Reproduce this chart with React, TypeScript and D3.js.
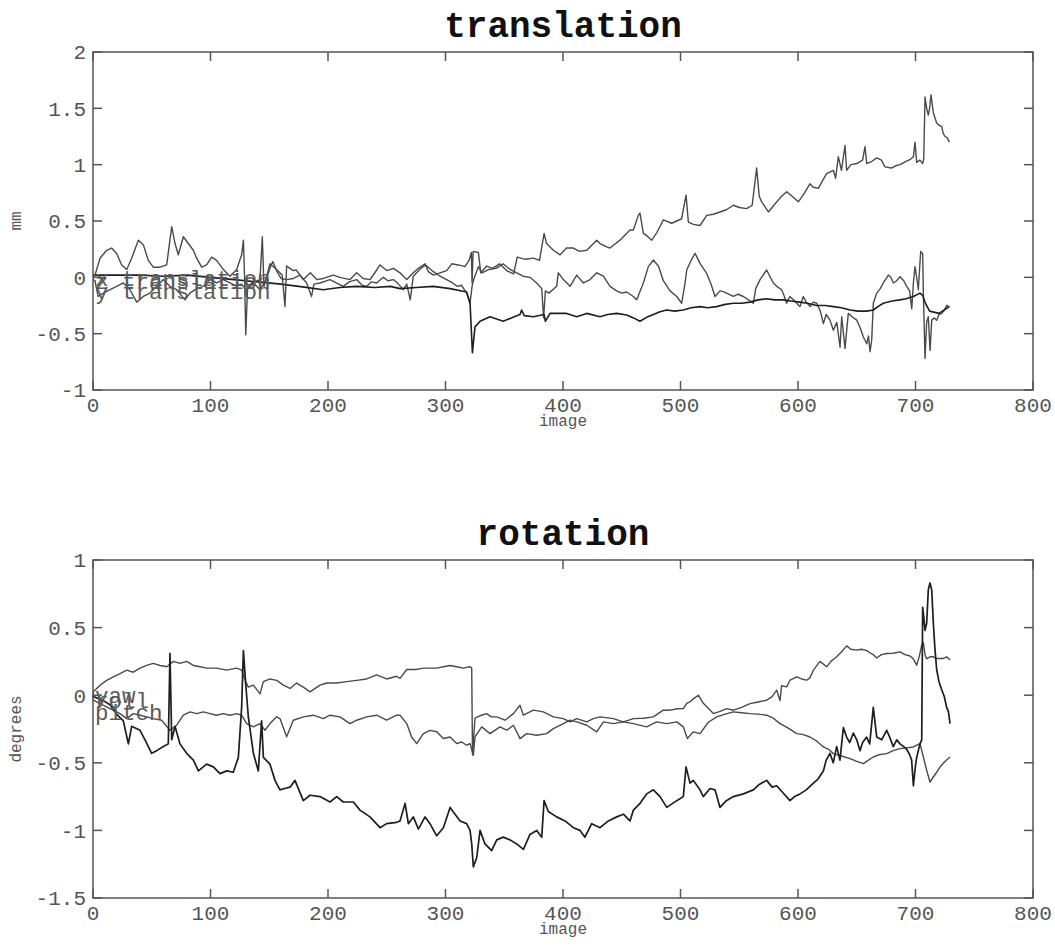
import * as d3 from 'd3';

// image index / value pairs
const xTranslation: [number, number][] = [[0,0.0],[1.7,0.02],[6,0.17],[11.6,0.24],[15.9,0.26],[20.2,0.21],[24.4,0.11],[28.7,0.07],[32.9,0.17],[38.6,0.33],[42.8,0.29],[47.1,0.15],[51.3,0.09],[57,0.09],[62.7,0.11],[67,0.45],[69.8,0.3],[72.6,0.2],[76.9,0.36],[81.1,0.3],[85.4,0.24],[88.2,0.17],[92.5,0.09],[96.7,0.11],[101,0.18],[105.2,0.15],[110.9,0.07],[116.6,0.01],[122.3,0.07],[126.5,0.2],[128,0.33],[129,0.0],[130,-0.51],[131.5,-0.1],[135,-0.05],[142.1,-0.02],[144.1,0.36],[145.5,-0.08],[150.6,0.12],[156.2,0.07],[161,0.02],[163.4,-0.26],[164.8,0.1],[170.5,0.06],[173,0.065],[179,-0.02],[185,0.04],[190.4,-0.02],[196,-0.01],[204.5,0.02],[210.2,0.0],[218.7,-0.02],[224.4,0.04],[230,-0.01],[235.8,-0.02],[241.4,0.065],[244.3,0.11],[250,0.06],[255.6,0.08],[261.3,0.04],[267,-0.02],[272.6,0.04],[276.9,0.08],[282.6,0.12],[285.4,0.05],[289.7,0.02],[295.3,0.04],[301,0.06],[305.3,0.12],[311,0.11],[316.6,0.095],[320,0.15],[322,0.22],[322.6,-0.05],[323.5,0.23],[328,0.22],[330,0.04],[335,0.1],[340,0.08],[346,0.12],[352,0.06],[358,0.03],[361,0.18],[368,0.16],[375,0.17],[380,0.15],[383.9,0.39],[386,0.3],[391.8,0.24],[397.5,0.2],[403,0.26],[408.8,0.26],[414,0.23],[420.2,0.24],[428.7,0.33],[431.5,0.3],[437.2,0.27],[440,0.26],[448.5,0.33],[457,0.42],[459.9,0.42],[464.1,0.55],[465.5,0.57],[468.4,0.39],[471.2,0.37],[475.5,0.33],[480,0.4],[485.4,0.51],[492.5,0.48],[501,0.52],[504.7,0.73],[506.7,0.49],[511,0.47],[516.6,0.46],[522.3,0.55],[528,0.56],[533.6,0.58],[539,0.6],[545,0.64],[550,0.62],[556.3,0.61],[561,0.64],[564.8,0.97],[567,0.72],[569.1,0.67],[574.8,0.58],[578,0.62],[581.9,0.67],[586,0.72],[590.4,0.76],[595,0.72],[600.3,0.67],[605,0.74],[610.2,0.83],[613,0.8],[617.3,0.79],[621,0.86],[624.4,0.92],[630.1,0.95],[632,0.88],[634.3,1.07],[637,0.95],[640,1.17],[641.4,0.95],[645,1.0],[650,1.01],[655,1.04],[657,1.16],[658.5,1.01],[663,1.03],[667,1.06],[671,1.04],[674,0.98],[679.7,0.97],[683,0.99],[686.8,1.0],[692,1.03],[696,1.05],[698.2,1.07],[699.6,1.2],[701,1.02],[703.8,1.04],[706.1,1.01],[707,1.05],[708.1,1.6],[709.5,1.5],[710.9,1.44],[712,1.5],[713.2,1.62],[715.2,1.46],[718,1.37],[720,1.35],[722.3,1.34],[723.5,1.28],[725.1,1.25],[727,1.24],[728.8,1.2]];

const yTranslation: [number, number][] = [[0,-0.02],[1.7,-0.03],[4.3,-0.17],[8.8,-0.14],[14.5,-0.11],[20.2,-0.08],[25.8,-0.05],[31.5,-0.11],[37.2,-0.22],[42.8,-0.17],[48.5,-0.14],[54.2,-0.08],[59.9,-0.02],[65.5,-0.08],[71.2,-0.11],[78.3,-0.2],[82.5,-0.14],[88.2,-0.1],[93.9,-0.08],[99.6,-0.02],[105.2,-0.05],[110.9,-0.02],[116.6,-0.05],[122.3,-0.08],[126,-0.06],[130.8,-0.11],[136.5,-0.05],[142.1,-0.11],[147,-0.03],[150.6,0.08],[153,0.14],[156.2,0.06],[160,-0.01],[164.8,-0.02],[170.5,-0.01],[176.2,0.02],[181.8,-0.05],[186,-0.17],[188,-0.06],[193.2,-0.05],[201.7,-0.02],[207,-0.05],[213,-0.08],[218,-0.04],[224.4,-0.02],[229,-0.07],[233,-0.08],[237,-0.04],[241.4,-0.05],[247.1,0.0],[251,-0.03],[255.6,-0.02],[260,-0.06],[264.1,-0.11],[267,-0.06],[270,-0.2],[272.6,0.01],[278,0.07],[283,0.11],[289.7,0.05],[295.3,0.01],[301,-0.02],[306,-0.05],[310,-0.08],[313.5,-0.07],[318,-0.14],[320.9,-0.23],[322.6,-0.08],[324,-0.02],[328,0.095],[331,0.04],[337,0.07],[343,0.08],[349,0.12],[355,0.07],[360.6,0.04],[366,0.01],[371.9,0.0],[377.6,-0.05],[381.9,-0.1],[383.5,-0.36],[385,-0.12],[388,-0.14],[394.6,-0.08],[396,0.04],[400.3,-0.02],[406,-0.08],[411.7,0.02],[417.3,-0.05],[423,-0.02],[428.7,0.04],[434.4,0.01],[440,-0.08],[445.7,-0.12],[450,-0.14],[454.2,-0.13],[459.9,-0.17],[462.7,-0.2],[468.4,-0.05],[472.6,0.095],[476.9,0.154],[481.2,0.1],[485.4,-0.03],[491.1,-0.12],[496.8,-0.17],[501,-0.23],[503.9,-0.05],[505.3,0.065],[509,0.15],[512.4,0.213],[516.6,0.124],[522.3,0.035],[526,-0.06],[529.4,-0.17],[533.6,-0.12],[536.5,-0.127],[541,-0.15],[545,-0.17],[549,-0.15],[553.5,-0.17],[558,-0.2],[562,-0.23],[564,-0.1],[567.7,-0.02],[573.3,0.065],[576,0.01],[579,-0.05],[582,-0.08],[586.1,-0.11],[588,-0.16],[590.4,-0.23],[593,-0.17],[596,-0.2],[599,-0.23],[601.7,-0.26],[604.5,-0.17],[607,-0.22],[610.2,-0.26],[613,-0.22],[615.9,-0.23],[619,-0.3],[621.6,-0.41],[624,-0.33],[627.2,-0.38],[630.1,-0.47],[633,-0.4],[635.8,-0.62],[637.2,-0.35],[640,-0.63],[642.8,-0.32],[646,-0.35],[650,-0.38],[653,-0.45],[655.6,-0.53],[658.5,-0.59],[660,-0.52],[661.3,-0.66],[662.7,-0.56],[664.1,-0.23],[667,-0.14],[670,-0.1],[672.6,-0.05],[676.9,0.02],[679,0.0],[681.2,-0.05],[684,-0.03],[686.8,0.006],[690,-0.03],[692.5,-0.08],[695,-0.12],[696.8,-0.28],[698.2,-0.05],[699.6,0.095],[701,0.0],[702.4,-0.11],[704.4,0.23],[706.1,0.21],[706.7,-0.14],[708.1,-0.72],[709.5,-0.4],[710.9,-0.35],[712.4,-0.65],[713.8,-0.38],[716,-0.36],[718,-0.38],[720,-0.33],[722.3,-0.32],[724,-0.3],[726.5,-0.25],[728.8,-0.26]];

const zTranslation: [number, number][] = [[0,0.02],[20,0.02],[40,0.02],[60,0.01],[80,0.02],[100,0.0],[120,-0.02],[140,-0.04],[160,-0.06],[175,-0.08],[196,-0.11],[210,-0.09],[224,-0.08],[240,-0.09],[253,-0.08],[261.3,-0.1],[275,-0.09],[289.7,-0.08],[303.9,-0.1],[318,-0.13],[320.9,-0.23],[322.9,-0.67],[325.1,-0.44],[329.4,-0.39],[337.9,-0.35],[349.2,-0.39],[356,-0.36],[363.4,-0.33],[364.8,-0.29],[367,-0.34],[374.8,-0.35],[383.9,-0.33],[385,-0.39],[389,-0.32],[403.1,-0.32],[411.7,-0.35],[420.2,-0.32],[431.5,-0.35],[438,-0.33],[445.7,-0.32],[454.2,-0.335],[460,-0.36],[465.5,-0.39],[471.2,-0.355],[482.6,-0.305],[488.2,-0.29],[495,-0.3],[502.4,-0.29],[509,-0.27],[516.6,-0.26],[523,-0.27],[530.8,-0.26],[538,-0.24],[545,-0.23],[552,-0.23],[559.2,-0.22],[566,-0.2],[573.3,-0.19],[580,-0.2],[587.5,-0.2],[594,-0.21],[601.7,-0.22],[608,-0.23],[615.9,-0.25],[623,-0.25],[630.1,-0.26],[637,-0.27],[644.3,-0.29],[651,-0.3],[658.5,-0.3],[664.1,-0.29],[668,-0.26],[672.6,-0.23],[680,-0.21],[686.8,-0.2],[692,-0.19],[698.2,-0.17],[703.8,-0.14],[706.1,-0.16],[708,-0.22],[712,-0.3],[720,-0.32],[728.8,-0.26]];

const pitch: [number, number][] = [[0,0.0],[0.3,0.025],[6,0.074],[11.6,0.11],[17.3,0.136],[23,0.16],[28.7,0.185],[34.3,0.17],[40,0.2],[45.7,0.22],[51.3,0.235],[57,0.22],[62.7,0.21],[68.4,0.25],[74,0.235],[79.7,0.25],[85.4,0.22],[91.1,0.21],[96.7,0.2],[105.2,0.2],[113.8,0.185],[122.3,0.2],[126.5,0.185],[130,0.1],[132.2,0.06],[136.5,0.075],[142.1,0.01],[145,0.1],[150.6,0.12],[156.3,0.11],[162,0.075],[167.7,0.05],[173.3,0.09],[179,0.06],[184.7,0.025],[193.2,0.075],[198.9,0.09],[207.4,0.09],[215.9,0.1],[224.4,0.11],[232.9,0.12],[241.4,0.15],[249.9,0.12],[258.4,0.14],[261.3,0.124],[267,0.19],[275,0.19],[281,0.2],[286.8,0.2],[292.5,0.2],[298.2,0.21],[303.9,0.22],[309.5,0.21],[315,0.2],[320.9,0.21],[322.3,0.2],[323,-0.44],[325.1,-0.17],[330,-0.15],[335,-0.136],[339,-0.16],[343.6,-0.16],[350.7,-0.185],[357.8,-0.136],[363.4,-0.074],[366.3,-0.148],[374.8,-0.11],[383.3,-0.123],[391.8,-0.16],[400.3,-0.173],[406,-0.197],[411.7,-0.173],[420.2,-0.197],[425.8,-0.173],[431.5,-0.16],[442.9,-0.173],[451.4,-0.197],[459.9,-0.173],[468.4,-0.17],[476.9,-0.16],[485.4,-0.111],[492,-0.11],[497,-0.1],[502.4,-0.099],[505.3,-0.06],[508.1,-0.049],[512,-0.02],[515.2,0.0],[519.4,-0.06],[524,-0.1],[528,-0.136],[533.6,-0.12],[539.3,-0.099],[545,-0.111],[552,-0.09],[559.2,-0.062],[566,-0.05],[573.3,-0.037],[578,-0.01],[581.9,0.037],[584.7,-0.04],[586,0.07],[590.4,0.062],[593.2,0.111],[598.9,0.136],[603,0.12],[607.4,0.111],[610.2,0.13],[613.1,0.185],[618.7,0.25],[624.4,0.21],[628,0.25],[632.9,0.284],[637,0.32],[641.4,0.365],[645,0.34],[649.9,0.333],[654,0.34],[658.5,0.33],[662,0.31],[664.1,0.3],[667,0.275],[671,0.3],[675.5,0.308],[681,0.31],[686.8,0.32],[691,0.3],[695.3,0.29],[698,0.27],[701,0.222],[703,0.28],[705.3,0.37],[706.7,0.39],[708.1,0.3],[709.5,0.27],[712.4,0.284],[715.2,0.284],[718,0.271],[723.7,0.272],[726.5,0.284],[729.4,0.26]];

const roll: [number, number][] = [[0,0.0],[0.3,-0.037],[6,-0.062],[14.5,-0.099],[23,-0.136],[28.7,-0.173],[34.3,-0.136],[40,-0.148],[45.7,-0.16],[51.3,-0.173],[58.4,-0.185],[65.5,-0.259],[71.2,-0.222],[76.9,-0.148],[82.6,-0.123],[88.2,-0.136],[93.9,-0.123],[99.6,-0.136],[105.2,-0.148],[110.9,-0.136],[116.6,-0.148],[122.3,-0.136],[126.5,-0.148],[130.8,-0.21],[136.5,-0.234],[142.1,-0.21],[146.4,-0.259],[150.6,-0.21],[156.3,-0.16],[159.1,-0.173],[164.8,-0.308],[170.5,-0.185],[179,-0.16],[187.5,-0.148],[196,-0.173],[201.7,-0.148],[210.2,-0.16],[218.7,-0.21],[224.4,-0.185],[232.9,-0.16],[241.4,-0.148],[249.9,-0.185],[258.4,-0.148],[261.3,-0.148],[267,-0.21],[271.2,-0.309],[275.5,-0.358],[281.2,-0.284],[286.8,-0.26],[292.5,-0.27],[298.2,-0.32],[303.9,-0.309],[309.5,-0.358],[313.8,-0.346],[318,-0.37],[320.9,-0.358],[323.7,-0.444],[325.1,-0.309],[330.8,-0.234],[337.9,-0.284],[346.4,-0.234],[352.1,-0.259],[357.8,-0.222],[363.4,-0.321],[369.1,-0.284],[377.6,-0.296],[386.1,-0.284],[391.8,-0.247],[400.3,-0.21],[406,-0.185],[411.7,-0.197],[420.2,-0.222],[428.7,-0.271],[434.4,-0.197],[442.9,-0.21],[451.4,-0.197],[459.9,-0.21],[471.2,-0.234],[479.7,-0.197],[488.3,-0.21],[496.8,-0.197],[502.4,-0.234],[505.8,-0.321],[510.9,-0.271],[516.6,-0.284],[523.7,-0.2],[530.8,-0.16],[538,-0.14],[545,-0.123],[552,-0.13],[559.2,-0.136],[566,-0.14],[573.3,-0.148],[579,-0.17],[584.7,-0.21],[591,-0.24],[598.9,-0.284],[604,-0.29],[610.2,-0.309],[616,-0.34],[621.6,-0.383],[626,-0.4],[630.1,-0.432],[637,-0.45],[644.3,-0.469],[650,-0.49],[655.6,-0.506],[660,-0.48],[664.1,-0.457],[669,-0.44],[675.5,-0.432],[681,-0.41],[686.8,-0.395],[692,-0.39],[698.2,-0.383],[703.8,-0.358],[706.7,-0.457],[709.5,-0.555],[712.3,-0.642],[715.2,-0.605],[718,-0.57],[720.9,-0.531],[725,-0.49],[729.4,-0.457]];

const yaw: [number, number][] = [[0,0.0],[0.3,-0.01],[8.8,-0.04],[14.5,-0.07],[20.1,-0.14],[25.8,-0.19],[30.1,-0.36],[32.9,-0.23],[40,-0.26],[44.3,-0.33],[49.9,-0.43],[54.2,-0.41],[59.9,-0.38],[64.1,-0.36],[65.5,0.31],[67,-0.33],[69.8,-0.23],[74,-0.36],[79.7,-0.43],[85.4,-0.48],[89.7,-0.56],[96.7,-0.51],[102.4,-0.53],[108.1,-0.58],[113.8,-0.56],[119.4,-0.57],[123.7,-0.46],[126.5,-0.09],[128,0.33],[129.9,0.09],[132.2,-0.16],[136.5,-0.43],[140.7,-0.56],[143.5,-0.19],[145,-0.46],[150.6,-0.51],[154.9,-0.63],[159.1,-0.7],[163,-0.69],[167.7,-0.68],[171.9,-0.63],[179,-0.78],[184.7,-0.74],[193.2,-0.75],[201.7,-0.79],[207.4,-0.75],[213,-0.79],[221.6,-0.79],[227.2,-0.85],[235.7,-0.9],[244.3,-0.98],[249.9,-0.95],[258.4,-0.94],[261.3,-0.93],[265.6,-0.8],[268.4,-0.95],[272.6,-0.9],[276.9,-0.99],[282.6,-0.9],[286.8,-0.95],[292.5,-1.04],[298.2,-0.98],[303.9,-0.83],[308.1,-0.88],[312.4,-0.93],[318,-0.95],[320.9,-1.0],[322.3,-1.1],[323.7,-1.27],[326.6,-1.2],[329.4,-1.0],[333.6,-1.1],[339.3,-1.15],[343.6,-1.07],[349.2,-1.05],[354.9,-1.07],[360.6,-1.1],[366.3,-1.14],[371.9,-1.03],[377.6,-1.0],[381.9,-1.05],[383.9,-0.78],[387.5,-0.86],[394.6,-0.9],[401.7,-0.93],[408.8,-0.98],[414.5,-1.0],[418.7,-1.05],[424.4,-0.95],[431.5,-0.98],[438.6,-0.93],[445.7,-0.9],[451.4,-0.88],[457,-0.93],[459.9,-0.85],[465.6,-0.8],[471.2,-0.73],[476.9,-0.7],[482.6,-0.75],[488.3,-0.83],[496.8,-0.78],[502.4,-0.75],[504.7,-0.53],[508.1,-0.65],[510.9,-0.63],[516.6,-0.7],[519.4,-0.75],[525.1,-0.69],[529.4,-0.7],[533.6,-0.83],[539,-0.78],[545,-0.75],[553.5,-0.73],[562,-0.7],[567,-0.66],[573.3,-0.63],[578,-0.68],[581.9,-0.67],[587,-0.72],[593.2,-0.78],[597,-0.75],[601.7,-0.73],[607,-0.7],[613.1,-0.65],[617,-0.62],[621.6,-0.56],[624,-0.48],[627.2,-0.43],[630,-0.5],[632.9,-0.38],[635.7,-0.48],[638.6,-0.24],[641.4,-0.31],[644,-0.35],[647.1,-0.28],[650,-0.33],[652.8,-0.41],[655,-0.35],[658.4,-0.31],[661,-0.36],[664.1,-0.09],[667,-0.31],[671.2,-0.33],[675.5,-0.26],[678,-0.31],[681.1,-0.38],[684,-0.33],[686.8,-0.36],[690,-0.38],[692.5,-0.4],[695,-0.44],[696.7,-0.48],[698.2,-0.67],[700,-0.52],[701,-0.46],[703.8,-0.36],[705.3,-0.33],[706.1,0.65],[707,0.58],[708.1,0.48],[709.5,0.53],[710.9,0.78],[712.3,0.83],[713.8,0.78],[715.2,0.53],[716.5,0.35],[718,0.19],[720,0.1],[722.3,0.04],[724.5,-0.01],[726.5,-0.09],[728,-0.12],[729.4,-0.21]];

const xTicks = [0, 100, 200, 300, 400, 500, 600, 700, 800];
const transTicks = [-1, -0.5, 0, 0.5, 1, 1.5, 2];
const rotTicks = [-1.5, -1, -0.5, 0, 0.5, 1];

const MONO = '"Liberation Mono", "Courier New", monospace';
const AXIS = '#555';

interface SeriesDef {
  data: [number, number][];
  color: string;
  width: number;
}

interface LabelDef {
  text: string;
  y: number;
}

interface PanelProps {
  top: number;
  bottom: number;
  title: string;
  yLabel: string;
  yDomain: [number, number];
  yTicks: number[];
  series: SeriesDef[];
  labels: LabelDef[];
}

function Panel({ top, bottom, title, yLabel, yDomain, yTicks, series, labels }: PanelProps) {
  const left = 93;
  const right = 1033;
  const x = d3.scaleLinear().domain([0, 800]).range([left, right]);
  const y = d3.scaleLinear().domain(yDomain).range([bottom, top]);
  const line = d3.line<[number, number]>().x((d) => x(d[0])).y((d) => y(d[1]));
  const tick = 9;

  return (
    <g>
      <text x={(left + right) / 2} y={top - 15} textAnchor="middle" fontFamily={MONO} fontWeight="bold" fontSize={36} fill="#111">
        {title}
      </text>

      {series.map((s, i) => (
        <path key={i} d={line(s.data) || ''} fill="none" stroke={s.color} strokeWidth={s.width} strokeLinejoin="round" />
      ))}

      {/* labels sit at the first sample, overlapping as in the original */}
      {labels.map((l) => (
        <text key={l.text} x={x(0) + 2} y={y(l.y)} dy="0.35em" fontFamily={MONO} fontSize={22.5} fill="#5a5a5a">
          {l.text}
        </text>
      ))}

      <rect x={left} y={top} width={right - left} height={bottom - top} fill="none" stroke={AXIS} strokeWidth={1.5} />

      {xTicks.map((t) => (
        <g key={`x${t}`}>
          <line x1={x(t)} x2={x(t)} y1={bottom} y2={bottom - tick} stroke={AXIS} strokeWidth={1.5} />
          <line x1={x(t)} x2={x(t)} y1={top} y2={top + tick} stroke={AXIS} strokeWidth={1.5} />
          <text x={x(t)} y={bottom + 15} dy="0.35em" textAnchor="middle" fontFamily={MONO} fontSize={21} fill={AXIS}>
            {t}
          </text>
        </g>
      ))}

      {yTicks.map((t) => (
        <g key={`y${t}`}>
          <line x1={left} x2={left + tick} y1={y(t)} y2={y(t)} stroke={AXIS} strokeWidth={1.5} />
          <line x1={right} x2={right - tick} y1={y(t)} y2={y(t)} stroke={AXIS} strokeWidth={1.5} />
          <text x={left - 7} y={y(t)} dy="0.35em" textAnchor="end" fontFamily={MONO} fontSize={21} fill={AXIS}>
            {String(t)}
          </text>
        </g>
      ))}

      <text x={(left + right) / 2} y={bottom + 30} dy="0.35em" textAnchor="middle" fontFamily={MONO} fontSize={16} fill={AXIS}>
        image
      </text>
      <text
        transform={`translate(15,${(top + bottom) / 2}) rotate(-90)`}
        dy="0.35em"
        textAnchor="middle"
        fontFamily={MONO}
        fontSize={16}
        fill={AXIS}
      >
        {yLabel}
      </text>
    </g>
  );
}

export default function App() {
  const gray = '#4a4a4a';
  const dark = '#1e1e1e';
  return (
    <svg width={1055} height={946} style={{ position: 'absolute', left: 0, top: 0, background: '#fff' }}>
      <rect width={1055} height={946} fill="#fff" />
      <Panel
        top={52}
        bottom={390}
        title="translation"
        yLabel="mm"
        yDomain={[-1, 2]}
        yTicks={transTicks}
        series={[
          { data: yTranslation, color: gray, width: 1.4 },
          { data: zTranslation, color: dark, width: 1.6 },
          { data: xTranslation, color: gray, width: 1.4 },
        ]}
        labels={[
          { text: 'x translation', y: -0.01 },
          { text: 'z translation', y: -0.035 },
          { text: 'y translation', y: -0.12 },
        ]}
      />
      <Panel
        top={560}
        bottom={898}
        title="rotation"
        yLabel="degrees"
        yDomain={[-1.5, 1]}
        yTicks={rotTicks}
        series={[
          { data: pitch, color: gray, width: 1.4 },
          { data: roll, color: gray, width: 1.4 },
          { data: yaw, color: dark, width: 1.7 },
        ]}
        labels={[
          { text: 'yaw', y: 0.0 },
          { text: 'roll', y: -0.04 },
          { text: 'pitch', y: -0.125 },
        ]}
      />
    </svg>
  );
}
